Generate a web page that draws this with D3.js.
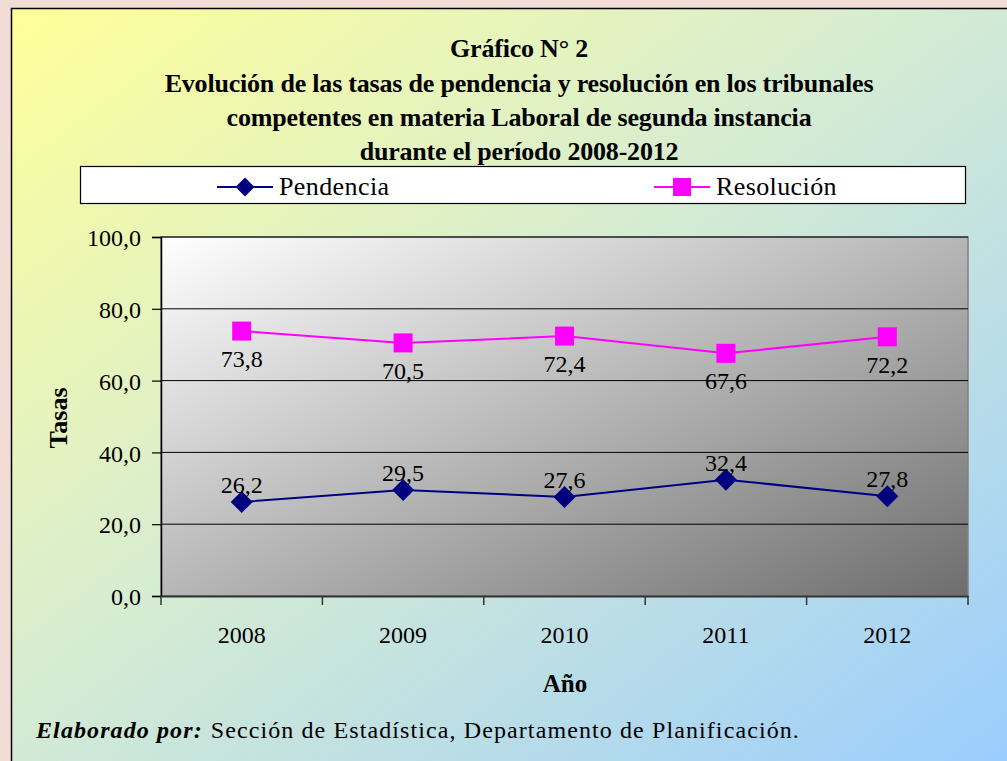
<!DOCTYPE html>
<html>
<head>
<meta charset="utf-8">
<script src="https://cdn.jsdelivr.net/npm/d3@7"></script>
<style>
  html, body { margin: 0; padding: 0; background: #f2dcd6; }
  svg { display: block; }
  svg text { font-family: "Liberation Serif", "Times New Roman", serif; fill: #000; }
</style>
</head>
<body>
<svg width="1007" height="761"></svg>
<script>
'use strict';

// datos del gráfico
const years = ["2008", "2009", "2010", "2011", "2012"];
const pendencia = [26.2, 29.5, 27.6, 32.4, 27.8];
const resolucion = [73.8, 70.5, 72.4, 67.6, 72.2];
const yTicks = [0, 20, 40, 60, 80, 100];
const titleLines = [
  "Gráfico N° 2",
  "Evolución de las tasas de pendencia y resolución en los tribunales",
  "competentes en materia Laboral de segunda instancia",
  "durante el período 2008-2012"
];

const FONT = "Liberation Serif";
const svg = d3.select("svg");
const defs = svg.append("defs");

// fondo del marco: amarillo arriba a la izquierda, celeste abajo a la derecha
const bg = defs.append("linearGradient").attr("id", "bgGrad")
  .attr("x1", "0").attr("y1", "0").attr("x2", "1").attr("y2", "1");
bg.append("stop").attr("offset", "0").attr("stop-color", "#ffff99");
bg.append("stop").attr("offset", "0.45").attr("stop-color", "#d6ecd2");
bg.append("stop").attr("offset", "1").attr("stop-color", "#99ccff");

const pg = defs.append("linearGradient").attr("id", "plotGrad")
  .attr("x1", "0").attr("y1", "0").attr("x2", "1").attr("y2", "1");
pg.append("stop").attr("offset", "0").attr("stop-color", "#ffffff");
pg.append("stop").attr("offset", "1").attr("stop-color", "#6e6e6e");

svg.append("rect").attr("x", 0).attr("y", 0).attr("width", 1007).attr("height", 761)
  .attr("fill", "#f2dcd6");
svg.append("rect").attr("x", 11.5).attr("y", 8.5).attr("width", 1010).attr("height", 770)
  .attr("fill", "url(#bgGrad)").attr("stroke", "#000").attr("stroke-width", 1.5);

// título
svg.append("g").selectAll("text")
  .data(titleLines)
  .join("text")
  .attr("x", 519)
  .attr("y", (d, i) => [57, 92, 126, 160][i])
  .attr("text-anchor", "middle")
  .attr("font-family", FONT)
  .style("font-size", "26px")
  .style("font-weight", "bold")
  .style("letter-spacing", "-0.2px")
  .text(d => d);

// área del gráfico
const plot = { left: 161, right: 968, top: 237, bottom: 596 };

const x = d3.scaleBand().domain(years).range([plot.left, plot.right]);
const y = d3.scaleLinear().domain([0, 100]).range([plot.bottom, plot.top]);

svg.append("rect")
  .attr("x", plot.left).attr("y", plot.top)
  .attr("width", plot.right - plot.left).attr("height", plot.bottom - plot.top)
  .attr("fill", "url(#plotGrad)")
  .attr("stroke", "#808080").attr("stroke-width", 1.5);

// líneas de cuadrícula
svg.append("g").selectAll("line")
  .data(yTicks.filter(t => t > 0))
  .join("line")
  .attr("x1", plot.left).attr("x2", plot.right)
  .attr("y1", d => y(d)).attr("y2", d => y(d))
  .attr("stroke", "#000").attr("stroke-width", 1);

// eje Y
const yAxis = svg.append("g")
  .attr("transform", `translate(${plot.left},0)`)
  .call(d3.axisLeft(y).tickValues(yTicks).tickSize(9).tickPadding(11)
    .tickFormat(d => d3.format(".1f")(d).replace(".", ",")));
yAxis.attr("font-family", FONT);
yAxis.select(".domain").attr("stroke", "#000").attr("stroke-width", 1.5);
yAxis.selectAll(".tick line").attr("stroke", "#000").attr("stroke-width", 1.2);
yAxis.selectAll("text").attr("font-family", FONT).style("font-size", "24px")
  .attr("dy", "0.36em").attr("fill", "#000");

// eje X
const xAxis = svg.append("g")
  .attr("transform", `translate(0,${plot.bottom})`)
  .call(d3.axisBottom(x).tickSize(0).tickPadding(0));
xAxis.attr("font-family", FONT);
xAxis.select(".domain").attr("stroke", "#333").attr("stroke-width", 2);
xAxis.selectAll("text").attr("font-family", FONT).style("font-size", "24px")
  .attr("y", 47).attr("dy", 0).attr("fill", "#000");
svg.append("g").selectAll("line")
  .data(years.map(d => x(d)).concat([plot.right]))
  .join("line")
  .attr("x1", d => d).attr("x2", d => d)
  .attr("y1", plot.bottom).attr("y2", plot.bottom + 9)
  .attr("stroke", "#333").attr("stroke-width", 1.5);

const cx = d => x(d) + x.bandwidth() / 2;
const fmt = v => d3.format(".1f")(v).replace(".", ",");

// serie Resolución
const lineGen = d3.line().x((d, i) => cx(years[i])).y(d => y(d));
svg.append("path").datum(resolucion)
  .attr("d", lineGen).attr("fill", "none")
  .attr("stroke", "#ff00ff").attr("stroke-width", 2);
svg.append("g").selectAll("rect")
  .data(resolucion)
  .join("rect")
  .attr("x", (d, i) => cx(years[i]) - 9.5)
  .attr("y", d => y(d) - 9.5)
  .attr("width", 19).attr("height", 19)
  .attr("fill", "#ff00ff");
svg.append("g").selectAll("text")
  .data(resolucion)
  .join("text")
  .attr("x", (d, i) => cx(years[i]))
  .attr("y", d => y(d) + 36)
  .attr("text-anchor", "middle")
  .attr("font-family", FONT)
  .style("font-size", "24px")
  .text(fmt);

// serie Pendencia
svg.append("path").datum(pendencia)
  .attr("d", lineGen).attr("fill", "none")
  .attr("stroke", "#000080").attr("stroke-width", 2);
const diamondPath = s => `M0,${-s}L${s},0L0,${s}L${-s},0Z`;
svg.append("g").selectAll("path")
  .data(pendencia)
  .join("path")
  .attr("transform", (d, i) => `translate(${cx(years[i])},${y(d)})`)
  .attr("d", diamondPath(11))
  .attr("fill", "#000080");
svg.append("g").selectAll("text")
  .data(pendencia)
  .join("text")
  .attr("x", (d, i) => cx(years[i]))
  .attr("y", d => y(d) - 9)
  .attr("text-anchor", "middle")
  .attr("font-family", FONT)
  .style("font-size", "24px")
  .text(fmt);

// leyenda
const legend = svg.append("g");
legend.append("rect")
  .attr("x", 80.5).attr("y", 166.5).attr("width", 885).attr("height", 37)
  .attr("fill", "#fff").attr("stroke", "#000").attr("stroke-width", 1.2);
const legendItems = [
  { name: "Pendencia", color: "#000080", x: 217, shape: "diamond" },
  { name: "Resolución", color: "#ff00ff", x: 654, shape: "square" }
];
legendItems.forEach(it => {
  const g = legend.append("g").attr("transform", `translate(${it.x},187)`);
  g.append("line").attr("x1", 0).attr("x2", 56).attr("stroke", it.color).attr("stroke-width", 2);
  if (it.shape === "diamond") {
    g.append("path").attr("transform", "translate(28,0)")
      .attr("d", diamondPath(9.5)).attr("fill", it.color);
  } else {
    g.append("rect").attr("x", 19).attr("y", -9).attr("width", 18).attr("height", 18).attr("fill", it.color);
  }
  g.append("text").attr("x", 62).attr("y", 8)
    .attr("font-family", FONT)
    .style("font-size", "26px").style("letter-spacing", "0.4px").text(it.name);
});

// títulos de ejes
svg.append("text")
  .attr("transform", "translate(67,418) rotate(-90)")
  .attr("text-anchor", "middle")
  .attr("font-family", FONT)
  .style("font-size", "26px").style("font-weight", "bold")
  .text("Tasas");
svg.append("text")
  .attr("x", 565).attr("y", 692)
  .attr("text-anchor", "middle")
  .attr("font-family", FONT)
  .style("font-size", "25px").style("font-weight", "bold")
  .text("Año");

// pie
const foot = svg.append("text").attr("x", 36).attr("y", 738)
  .attr("font-family", FONT).style("font-size", "24px").style("letter-spacing", "1.1px");
foot.append("tspan").style("font-weight", "bold").style("font-style", "italic").text("Elaborado por:");
foot.append("tspan").attr("dx", 8).text("Sección de Estadística, Departamento de Planificación.");
</script>
</body>
</html>
